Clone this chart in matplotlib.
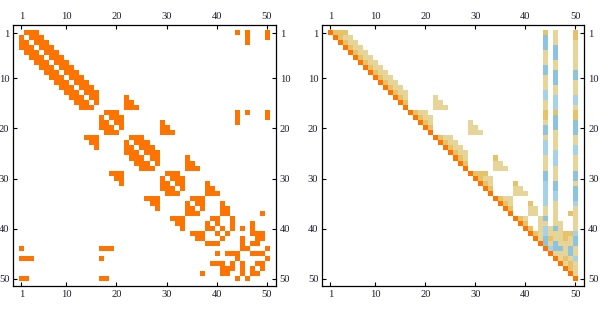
import numpy as np
import matplotlib.pyplot as plt
from matplotlib.colors import ListedColormap

plt.rcParams['font.family'] = ['Liberation Serif', 'DejaVu Serif']

N = 50
ticks = [1, 10, 20, 30, 40, 50]

# left matrix is symmetric: for each row, the set columns right of the diagonal
left_upper = [
    "2 3 4 44 46 50",   # 1
    "3 4 5 46 50",      # 2
    "4 5 6 46",         # 3
    "5 6 7",            # 4
    "6 7 8",            # 5
    "7 8 9",            # 6
    "8 9 10",           # 7
    "9 10 11",          # 8
    "10 11 12",         # 9
    "11 12 13",         # 10
    "12 13 14",         # 11
    "13 14 15",         # 12
    "14 15 16",         # 13
    "15 16 22",         # 14
    "16 22 23",         # 15
    "22 23 24",         # 16
    "18 19 20 44 46 50",  # 17
    "19 20 21 44 50",   # 18
    "20 21 29 44",      # 19
    "21 29 30",         # 20
    "29 30 31",         # 21
    "23 24 25",         # 22
    "24 25 26",         # 23
    "25 26 27",         # 24
    "26 27 28",         # 25
    "27 28 34",         # 26
    "28 34 35",         # 27
    "34 35 36",         # 28
    "30 31 32",         # 29
    "31 32 33",         # 30
    "32 33 38",         # 31
    "33 38 39",         # 32
    "38 39 40",         # 33
    "35 36 37",         # 34
    "36 37 41",         # 35
    "37 41 42",         # 36
    "41 42 49",         # 37
    "39 40 43",         # 38
    "40 43 47",         # 39
    "41 43 45 47",      # 40
    "42 47 48 49",      # 41
    "45 48 49",         # 42
    "45 47 48",         # 43
    "45 46 50",         # 44
    "47 48 49",         # 45
    "50",               # 46
    "48 49",            # 47
    "49",               # 48
    "",                 # 49
    "",                 # 50
]

# right matrix: "column+shade" per row
# O diagonal orange, T strong tan, t pale tan, B blue, b pale blue
right_rows = [
    "1O 2T 3T 4T 44T 46t 50T",
    "2O 3T 4t 5t 44B 46t 50T",
    "3O 4T 5t 6t 44B 46t 50t",
    "4O 5T 6t 7t 44B 46B 50t",
    "5O 6T 7t 8t 44t 46B 50t",
    "6O 7T 8t 9t 44t 46B 50t",
    "7O 8T 9t 10t 44t 46t 50t",
    "8O 9T 10t 11t 44B 46t 50t",
    "9O 10T 11t 12t 44B 46B 50B",
    "10O 11T 12t 13t 44t 46B 50B",
    "11O 12T 13t 14t 44t 46B 50t",
    "12O 13T 14t 15t 44t 46t 50t",
    "13O 14T 15t 16t 44b 46t 50t",
    "14O 15T 16t 22t 44b 46b 50b",
    "15O 16T 22t 23t 44t 46b 50b",
    "16O 22t 23t 24t 44t 46b 50t",
    "17O 18T 19t 20t 44T 46T 50T",
    "18O 19T 20t 21t 44T 46B 50T",
    "19O 20T 21t 29t 44t 46B 50B",
    "20O 21T 29t 30t 44B 46B 50B",
    "21O 29t 30t 31t 44B 46t 50B",
    "22O 23T 24t 25t 44t 46t 50t",
    "23O 24T 25t 26t 44b 46t 50t",
    "24O 25T 26t 27t 44b 46t 50b",
    "25O 26T 27t 28t 44b 46b 50b",
    "26O 27T 28t 34T 44t 46b 50t",
    "27O 28T 34t 35t 44t 46b 50t",
    "28O 34t 35t 36t 44t 46t 50t",
    "29O 30T 31T 32T 44B 46t 50B",
    "30O 31T 32t 33t 44B 46t 50B",
    "31O 32T 33t 38T 44b 46B 50t",
    "32O 33T 38t 39t 44b 46B 50B",
    "33O 38t 39t 40t 44b 46b 50B",
    "34O 35T 36t 37t 44b 46b 50B",
    "35O 36T 37t 41T 44b 46t 50b",
    "36O 37T 41t 42t 44t 46t 50t",
    "37O 41t 42t 44t 46t 49T 50t",
    "38O 39T 40t 43t 44B 46t 50t",
    "39O 40T 43t 44t 46t 47t 50t",
    "40O 41T 43t 44b 45t 46B 47t 50t",
    "41O 42T 43t 44b 45t 46t 47t 48T 49T 50b",
    "42O 43t 44B 45T 46t 47t 48T 49t 50B",
    "43O 44B 45t 46B 47t 48t 49t 50B",
    "44O 45b 46B 47B 48t 49B 50t",
    "45O 46t 47t 48t 49B 50t",
    "46O 47t 48T 49t 50b",
    "47O 48t 49T 50t",
    "48O 49T 50t",
    "49O 50t",
    "50O",
]

orange = "#ff7300"
shades = ".OTtBb"
shade_colors = ["white", orange, "#e8c268", "#e6d498", "#8cc3df", "#a5d2e6"]

A = np.zeros((N, N))
for r, cols in enumerate(left_upper):
    for c in cols.split():
        A[r, int(c) - 1] = 1
        A[int(c) - 1, r] = 1

B = np.zeros((N, N), dtype=int)
for r, cells in enumerate(right_rows):
    for tok in cells.split():
        B[r, int(tok[:-1]) - 1] = shades.index(tok[-1])

fig = plt.figure(figsize=(6, 3.13), dpi=100)
ax1 = fig.add_axes([13.3 / 600, 27.3 / 313, 262.4 / 600, 260.4 / 313])
ax2 = fig.add_axes([322.3 / 600, 27.3 / 313, 262.0 / 600, 260.4 / 313])

ext = (0.5, N + 0.5, N + 0.5, 0.5)
ax1.imshow(A, cmap=ListedColormap(["white", orange]), vmin=0, vmax=1,
           extent=ext, interpolation="nearest", aspect="auto")
ax2.imshow(B, cmap=ListedColormap(shade_colors), vmin=0, vmax=len(shades) - 1,
           extent=ext, interpolation="nearest", aspect="auto")

for ax in (ax1, ax2):
    ax.set_xlim(-0.6, 51.8)
    ax.set_ylim(51.4, -0.6)
    ax.set_xticks(ticks)
    ax.set_yticks(ticks)
    ax.tick_params(direction="in", length=3, width=0.8, top=True, right=True,
                   labeltop=True, labelright=True, labelsize=7.6,
                   labelcolor="#1c1c30", pad=2.8)
    for s in ax.spines.values():
        s.set_linewidth(0.9)

fig.savefig("out.png", dpi=100)
